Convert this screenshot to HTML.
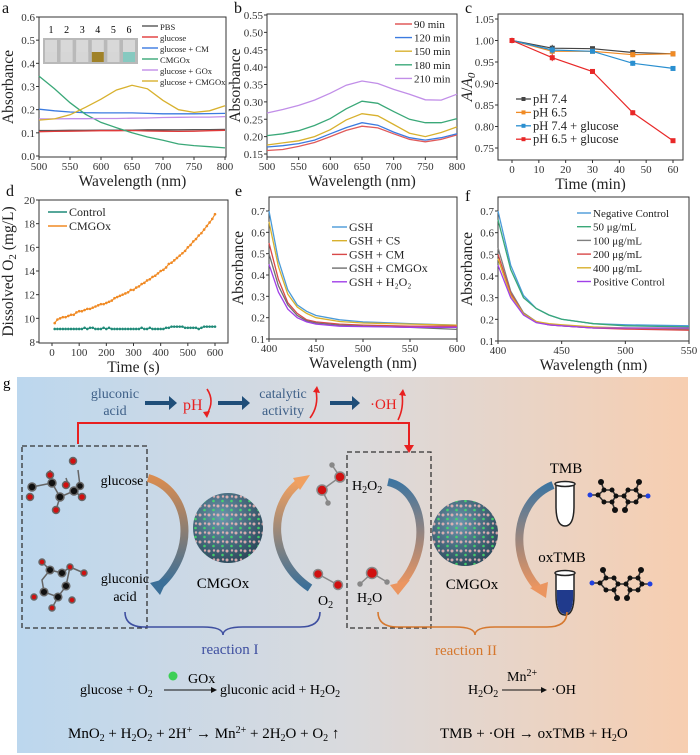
<!DOCTYPE html>
<html><head><meta charset="utf-8">
<style>
html,body{margin:0;padding:0;background:#fff;}
svg{display:block;font-family:"Liberation Serif",serif;}
</style></head>
<body>
<svg id="fig" width="700" height="755" viewBox="0 0 700 755" xmlns="http://www.w3.org/2000/svg">
<defs>
<linearGradient id="bgg" x1="0" x2="1" y1="0" y2="0"><stop offset="0" stop-color="#bcd7ee"/><stop offset="0.5" stop-color="#dadadd"/><stop offset="1" stop-color="#f7ceb0"/></linearGradient>
<radialGradient id="sph" cx="0.4" cy="0.35" r="0.7"><stop offset="0" stop-color="#6b97ad"/><stop offset="1" stop-color="#2a4658"/></radialGradient>
<pattern id="dots" width="9" height="9" patternUnits="userSpaceOnUse"><circle cx="2" cy="2" r="1.5" fill="#f0b8b8"/><circle cx="6.5" cy="6" r="1.3" fill="#44e06a"/><circle cx="7" cy="1.5" r="1.2" fill="#f0b8b8"/></pattern>
<linearGradient id="ob" x1="0" y1="0" x2="0" y2="1"><stop offset="0" stop-color="#d98c50"/><stop offset="1" stop-color="#3a6f98"/></linearGradient>
<linearGradient id="bo" x1="0" y1="0" x2="0" y2="1"><stop offset="0" stop-color="#f0a060"/><stop offset="1" stop-color="#3a6f98"/></linearGradient>
<linearGradient id="bo2" x1="0" y1="0" x2="0" y2="1"><stop offset="0" stop-color="#3f75a0"/><stop offset="1" stop-color="#eb9560"/></linearGradient>
</defs>
<g id="charts"></g>

<g>
<rect x="17" y="377" width="671" height="376" fill="url(#bgg)"/>
<text x="3" y="388" font-size="15">g</text>
<text x="115" y="398" font-size="14" fill="#3d5f87" text-anchor="middle">gluconic</text>
<text x="115" y="415" font-size="14" fill="#3d5f87" text-anchor="middle">acid</text>
<path d="M145,401 h24 v-5 l8,7 l-8,7 v-5 h-24z" fill="#1f4e79"/>
<text x="183" y="410" font-size="16" fill="#e82020">pH</text>
<path d="M207,389 q8,12 0,25" stroke="#e82020" stroke-width="1.6" fill="none"/>
<polygon points="203,412 207,418 210,411" fill="#e82020"/>
<path d="M218,401 h24 v-5 l8,7 l-8,7 v-5 h-24z" fill="#1f4e79"/>
<text x="283" y="398" font-size="14" fill="#3d5f87" text-anchor="middle">catalytic</text>
<text x="283" y="415" font-size="14" fill="#3d5f87" text-anchor="middle">activity</text>
<path d="M310,418 q9,-12 6,-27" stroke="#e82020" stroke-width="1.6" fill="none"/>
<polygon points="313,392 317,386 320,393" fill="#e82020"/>
<path d="M330,401 h22 v-5 l8,7 l-8,7 v-5 h-22z" fill="#1f4e79"/>
<text x="370" y="409" font-size="15" fill="#e82020">·OH</text>
<path d="M398,420 q6,-12 4,-26" stroke="#e82020" stroke-width="1.6" fill="none"/>
<polygon points="399,395 403,389 406,396" fill="#e82020"/>
<path d="M78,444 V423 H409 V447" stroke="#e82020" stroke-width="2" fill="none"/>
<polygon points="404,445 409,453 414,445" fill="#e82020"/>
<rect x="22" y="446" width="125" height="182" fill="none" stroke="#333" stroke-width="1.3" stroke-dasharray="5,3"/>
<rect x="347" y="452" width="84" height="176" fill="none" stroke="#333" stroke-width="1.3" stroke-dasharray="5,3"/>
<g stroke="#666" stroke-width="1.5">
<path d="M32,487 L52,483 L60,497 L74,491 L80,486 L78,470 M52,483 L50,470 M60,497 L56,510 M74,491 L82,497 M68,484 L66,478" fill="none"/>
<circle cx="32" cy="487" r="4" fill="#111"/><circle cx="52" cy="483" r="4" fill="#111"/><circle cx="60" cy="497" r="4" fill="#111"/><circle cx="74" cy="491" r="4" fill="#111"/><circle cx="80" cy="486" r="3.5" fill="#111"/>
<circle cx="30" cy="497" r="3.5" fill="#d01010"/><circle cx="50" cy="475" r="3.5" fill="#d01010"/><circle cx="56" cy="510" r="3.5" fill="#d01010"/><circle cx="82" cy="497" r="3.5" fill="#d01010"/><circle cx="66" cy="485" r="3.5" fill="#d01010"/><circle cx="73" cy="461" r="3.5" fill="#d01010"/>
</g>
<g stroke="#666" stroke-width="1.5">
<path d="M42,580 L50,570 L62,573 L70,567 L66,586 L58,597 L44,592 Z M50,570 L42,562 M70,567 L84,573 M58,597 L52,608" fill="none"/>
<circle cx="50" cy="570" r="3.8" fill="#111"/><circle cx="62" cy="573" r="3.8" fill="#111"/><circle cx="44" cy="592" r="3.8" fill="#111"/><circle cx="58" cy="597" r="3.8" fill="#111"/><circle cx="66" cy="586" r="3.8" fill="#111"/>
<circle cx="42" cy="562" r="3" fill="#d01010"/><circle cx="84" cy="573" r="3" fill="#d01010"/><circle cx="52" cy="608" r="3" fill="#d01010"/><circle cx="34" cy="597" r="3" fill="#d01010"/><circle cx="70" cy="567" r="3" fill="#d01010"/><circle cx="72" cy="600" r="3" fill="#d01010"/>
</g>
<text x="122" y="485" font-size="14" text-anchor="middle">glucose</text>
<text x="125" y="583" font-size="14" text-anchor="middle">gluconic</text>
<text x="125" y="601" font-size="14" text-anchor="middle">acid</text>
<path d="M148,478 C190,490 198,550 160,585" stroke="url(#ob)" stroke-width="8" fill="none"/>
<polygon points="150,583 168,578 160,595" fill="#3a6f98"/>
<circle cx="228" cy="528" r="35" fill="url(#sph)"/>
<circle cx="228" cy="528" r="35" fill="url(#dots)" opacity="0.85"/>
<text x="223" y="588" font-size="15" text-anchor="middle">CMGOx</text>
<path d="M310,588 C268,560 268,505 300,482" stroke="url(#bo)" stroke-width="8" fill="none"/>
<polygon points="293,478 310,475 300,490" fill="#f0a060"/>
<g stroke="#888" stroke-width="1.5">
<path d="M332,465 L340,477 L322,490 L328,502" fill="none"/>
<circle cx="340" cy="477" r="5" fill="#d01010"/><circle cx="322" cy="490" r="5" fill="#d01010"/><circle cx="332" cy="465" r="2" fill="#888"/><circle cx="328" cy="503" r="2" fill="#888"/>
</g>
<g stroke="#888" stroke-width="1.5">
<path d="M318,574 L338,585" fill="none"/><circle cx="318" cy="574" r="4.5" fill="#d01010"/><circle cx="338" cy="585" r="4.5" fill="#d01010"/>
</g>
<text x="318" y="605" font-size="14">O<tspan font-size="10" dy="3">2</tspan></text>
<text x="352" y="490" font-size="14">H<tspan font-size="10" dy="3">2</tspan><tspan dy="-3">O</tspan><tspan font-size="10" dy="3">2</tspan></text>
<path d="M388,482 C425,490 432,550 400,585" stroke="url(#bo2)" stroke-width="8" fill="none"/>
<polygon points="390,585 410,580 398,595" fill="#eb9560"/>
<g stroke="#888" stroke-width="1.5">
<path d="M360,584 L372,573 L387,582" fill="none"/><circle cx="372" cy="573" r="5.5" fill="#d01010"/><circle cx="360" cy="584" r="2" fill="#888"/><circle cx="387" cy="582" r="2" fill="#888"/>
</g>
<text x="357" y="602" font-size="14">H<tspan font-size="10" dy="3">2</tspan><tspan dy="-3">O</tspan></text>
<circle cx="465" cy="533" r="33" fill="url(#sph)"/>
<circle cx="465" cy="533" r="33" fill="url(#dots)" opacity="0.85"/>
<text x="472" y="589" font-size="15" text-anchor="middle">CMGOx</text>
<path d="M553,485 C515,500 508,555 538,588" stroke="url(#bo2)" stroke-width="8" fill="none"/>
<polygon points="530,588 548,582 546,598" fill="#eb9560"/>
<text x="566" y="473" font-size="15" text-anchor="middle">TMB</text>
<text x="562" y="562" font-size="15" text-anchor="middle">oxTMB</text>
<path d="M556,484 h18 v22 q0,20 -9,20 q-9,0 -9,-20z" fill="#fff" stroke="#222" stroke-width="1.5"/>
<ellipse cx="565" cy="484" rx="10" ry="2.5" fill="#fff" stroke="#222" stroke-width="1.5"/>
<path d="M556,573 h18 v22 q0,20 -9,20 q-9,0 -9,-20z" fill="#fff" stroke="#222" stroke-width="1.5"/>
<path d="M556.8,590 h16.4 v5 q0,19 -8.2,19 q-8.2,0 -8.2,-19z" fill="#203a8c"/>
<ellipse cx="565" cy="573" rx="10" ry="2.5" fill="#fff" stroke="#222" stroke-width="1.5"/>
<g stroke="#333" stroke-width="1.6" fill="none">
<path d="M598,495 l6,-5 l8,0 l4,6 l-4,6 l-8,0z M616,496 l8,0 M624,496 l4,-6 l8,0 l4,6 l-4,6 l-8,0z M590,495 l8,0 M640,496 l8,0 M604,490 l-3,-8 M636,490 l3,-8 M612,502 l3,8 M628,502 l-3,8"/>
<g fill="#111" stroke="none"><circle cx="598" cy="495" r="2.5"/><circle cx="604" cy="490" r="2.5"/><circle cx="612" cy="490" r="2.5"/><circle cx="616" cy="496" r="2.5"/><circle cx="612" cy="502" r="2.5"/><circle cx="604" cy="502" r="2.5"/><circle cx="624" cy="496" r="2.5"/><circle cx="628" cy="490" r="2.5"/><circle cx="636" cy="490" r="2.5"/><circle cx="640" cy="496" r="2.5"/><circle cx="636" cy="502" r="2.5"/><circle cx="628" cy="502" r="2.5"/><circle cx="601" cy="482" r="3"/><circle cx="639" cy="482" r="3"/><circle cx="615" cy="510" r="3"/><circle cx="625" cy="510" r="3"/></g>
<circle cx="590" cy="495" r="2.5" fill="#2040e0" stroke="none"/><circle cx="648" cy="496" r="2.5" fill="#2040e0" stroke="none"/>
</g>
<g stroke="#333" stroke-width="1.6" fill="none">
<path d="M600,583 l6,-5 l8,0 l4,6 l-4,6 l-8,0z M618,584 l8,0 M626,584 l4,-6 l8,0 l4,6 l-4,6 l-8,0z M592,583 l8,0 M642,584 l8,0 M606,578 l-3,-8 M638,578 l3,-8 M614,590 l3,8 M630,590 l-3,8"/>
<g fill="#111" stroke="none"><circle cx="600" cy="583" r="2.5"/><circle cx="606" cy="578" r="2.5"/><circle cx="614" cy="578" r="2.5"/><circle cx="618" cy="584" r="2.5"/><circle cx="614" cy="590" r="2.5"/><circle cx="606" cy="590" r="2.5"/><circle cx="626" cy="584" r="2.5"/><circle cx="630" cy="578" r="2.5"/><circle cx="638" cy="578" r="2.5"/><circle cx="642" cy="584" r="2.5"/><circle cx="638" cy="590" r="2.5"/><circle cx="630" cy="590" r="2.5"/><circle cx="603" cy="570" r="3"/><circle cx="641" cy="570" r="3"/><circle cx="617" cy="598" r="3"/><circle cx="627" cy="598" r="3"/></g>
<circle cx="592" cy="583" r="2.5" fill="#2040e0" stroke="none"/><circle cx="650" cy="584" r="2.5" fill="#2040e0" stroke="none"/>
</g>
<path d="M125,612 q0,15 20,15 h58 q20,0 20,8 q0,-8 20,-8 h57 q20,0 20,-15" stroke="#3e4fa0" stroke-width="1.6" fill="none"/>
<text x="230" y="654" font-size="15" fill="#3e4fa0" text-anchor="middle">reaction I</text>
<path d="M378,612 q0,15 20,15 h57 q20,0 20,8 q0,-8 20,-8 h52 q20,0 20,-15" stroke="#d6782e" stroke-width="1.6" fill="none"/>
<text x="466" y="655" font-size="15" fill="#d6782e" text-anchor="middle">reaction II</text>
<g font-size="14">
<text x="80" y="694">glucose + O<tspan font-size="10" dy="3">2</tspan></text>
<line x1="164" y1="690" x2="213" y2="690" stroke="#111" stroke-width="1"/><polygon points="211,687 217,690 211,693" fill="#111"/>
<circle cx="173" cy="676" r="4.5" fill="#3ccf55"/>
<text x="188" y="683" font-size="14">GOx</text>
<text x="220" y="694">gluconic acid + H<tspan font-size="10" dy="3">2</tspan><tspan dy="-3">O</tspan><tspan font-size="10" dy="3">2</tspan></text>
</g>
<g font-size="14">
<text x="468" y="694">H<tspan font-size="10" dy="3">2</tspan><tspan dy="-3">O</tspan><tspan font-size="10" dy="3">2</tspan></text>
<line x1="502" y1="690" x2="543" y2="690" stroke="#111" stroke-width="1"/><polygon points="541,687 547,690 541,693" fill="#111"/>
<text x="507" y="681">Mn<tspan font-size="10" dy="-5">2+</tspan></text>
<text x="551" y="694">·OH</text>
</g>
<text x="68" y="738" font-size="15">MnO<tspan font-size="10" dy="3">2</tspan><tspan dy="-3"> + H</tspan><tspan font-size="10" dy="3">2</tspan><tspan dy="-3">O</tspan><tspan font-size="10" dy="3">2</tspan><tspan dy="-3"> + 2H</tspan><tspan font-size="10" dy="-5">+</tspan><tspan dy="5"> → Mn</tspan><tspan font-size="10" dy="-5">2+</tspan><tspan dy="5"> + 2H</tspan><tspan font-size="10" dy="3">2</tspan><tspan dy="-3">O + O</tspan><tspan font-size="10" dy="3">2</tspan><tspan dy="-3"> ↑</tspan></text>
<text x="440" y="738" font-size="15">TMB + ·OH → oxTMB + H<tspan font-size="10" dy="3">2</tspan><tspan dy="-3">O</tspan></text>
</g>
</svg>
<script>
const aWl = [500,525,550,575,600,625,650,675,700,725,750,775,800];
const aPBS = [0.110,0.110,0.111,0.111,0.112,0.112,0.112,0.113,0.113,0.113,0.114,0.114,0.115];
const aGlucose = [0.105,0.106,0.107,0.108,0.109,0.109,0.110,0.108,0.107,0.106,0.107,0.109,0.111];
const aGlucoseCM = [0.202,0.195,0.190,0.187,0.186,0.186,0.186,0.184,0.182,0.182,0.182,0.183,0.184];
const aCMGOx = [0.345,0.290,0.230,0.180,0.145,0.122,0.100,0.082,0.068,0.052,0.045,0.040,0.035];
const aGlucoseGOx = [0.160,0.160,0.161,0.161,0.162,0.162,0.163,0.164,0.166,0.167,0.168,0.168,0.170];
const aGlucoseCMGOx = [0.155,0.160,0.178,0.210,0.245,0.285,0.305,0.290,0.240,0.200,0.188,0.195,0.217];
const aXTicks = [500,550,600,650,700,750,800];
const aYTicks = [0.0,0.1,0.2,0.3,0.4,0.5,0.6];
const aLegend = ["PBS","glucose","glucose + CM","CMGOx","glucose + GOx","glucose + CMGOx"];
const bWl = [500,525,550,575,600,625,650,675,700,725,750,775,800];
const b90 = [0.160,0.163,0.172,0.183,0.200,0.218,0.230,0.225,0.208,0.192,0.185,0.192,0.205];
const b120 = [0.170,0.174,0.180,0.190,0.208,0.226,0.240,0.233,0.213,0.197,0.190,0.197,0.208];
const b150 = [0.176,0.182,0.188,0.200,0.220,0.248,0.266,0.260,0.235,0.210,0.200,0.212,0.228];
const b180 = [0.203,0.208,0.217,0.232,0.252,0.280,0.302,0.296,0.272,0.250,0.240,0.240,0.252];
const b210 = [0.268,0.278,0.290,0.305,0.325,0.348,0.360,0.353,0.336,0.322,0.306,0.305,0.322];
const bXTicks = [500,550,600,650,700,750,800];
const bYTicks = [0.15,0.20,0.25,0.30,0.35,0.40,0.45,0.50,0.55];
const bLegend = ["90 min","120 min","150 min","180 min","210 min"];
const cTime = [0,15,30,45,60];
const cPH74 = [1.000,0.982,0.981,0.972,0.969];
const cPH65 = [1.000,0.975,0.975,0.967,0.969];
const cPH74G = [1.000,0.978,0.975,0.947,0.935];
const cPH65G = [1.000,0.960,0.928,0.832,0.767];
const cErr = [0.006,0.008,0.005,0.006,0.005];
const cXTicks = [0,10,20,30,40,50,60];
const cYTicks = [0.75,0.80,0.85,0.90,0.95,1.00,1.05];
const cLegend = ["pH 7.4","pH 6.5","pH 7.4 + glucose","pH 6.5 + glucose"];
const dTime = [10,20,30,40,50,60,70,80,90,100,110,120,130,140,150,160,170,180,190,200,210,220,230,240,250,260,270,280,290,300,310,320,330,340,350,360,370,380,390,400,410,420,430,440,450,460,470,480,490,500,510,520,530,540,550,560,570,580,590,600];
const dCMGOx = [9.6,9.9,10.0,10.1,10.1,10.2,10.3,10.3,10.5,10.6,10.6,10.7,10.8,10.8,10.9,11.0,11.1,11.2,11.2,11.3,11.4,11.5,11.7,11.8,11.9,12.0,12.1,12.2,12.4,12.4,12.6,12.7,12.9,13.0,13.2,13.3,13.5,13.6,13.8,14.0,14.1,14.3,14.6,14.7,14.9,15.1,15.3,15.5,15.7,16.0,16.2,16.5,16.7,17.0,17.2,17.5,17.8,18.1,18.4,18.8];
const dControl = [9.1,9.1,9.1,9.1,9.1,9.1,9.1,9.1,9.1,9.1,9.1,9.2,9.1,9.2,9.2,9.1,9.1,9.1,9.2,9.1,9.2,9.1,9.1,9.1,9.1,9.1,9.1,9.1,9.1,9.1,9.1,9.1,9.2,9.1,9.1,9.2,9.1,9.1,9.1,9.1,9.1,9.2,9.2,9.3,9.3,9.3,9.3,9.3,9.2,9.2,9.2,9.2,9.2,9.1,9.2,9.3,9.3,9.3,9.3,9.3];
const dXTicks = [0,100,200,300,400,500,600];
const dYTicks = [8,10,12,14,16,18,20];
const dLegend = ["Control","CMGOx"];
const eWl = [400,410,420,430,440,450,475,500,550,600];
const eGSH = [0.70,0.47,0.33,0.26,0.23,0.21,0.19,0.18,0.172,0.165];
const eCS = [0.65,0.44,0.31,0.25,0.22,0.20,0.182,0.175,0.170,0.165];
const eCM = [0.55,0.38,0.27,0.22,0.19,0.18,0.170,0.165,0.160,0.160];
const eCMGOx = [0.50,0.35,0.26,0.21,0.185,0.175,0.165,0.160,0.155,0.145];
const eH2O2 = [0.45,0.32,0.24,0.20,0.18,0.17,0.160,0.158,0.155,0.155];
const eXTicks = [400,450,500,550,600];
const eYTicks = [0.1,0.2,0.3,0.4,0.5,0.6,0.7];
const eLegend = ["GSH","GSH + CS","GSH + CM","GSH + CMGOx","GSH + H₂O₂"];
const fWl = [400,410,420,430,440,450,475,500,550];
const fNeg = [0.70,0.45,0.31,0.25,0.22,0.20,0.180,0.175,0.170];
const f50 = [0.66,0.43,0.30,0.25,0.22,0.20,0.180,0.170,0.165];
const f100 = [0.53,0.33,0.23,0.19,0.175,0.17,0.160,0.160,0.155];
const f200 = [0.50,0.32,0.225,0.19,0.175,0.17,0.160,0.155,0.150];
const f400 = [0.48,0.31,0.225,0.19,0.18,0.175,0.165,0.160,0.160];
const fPos = [0.45,0.30,0.22,0.185,0.175,0.17,0.160,0.160,0.160];
const fXTicks = [400,450,500,550];
const fYTicks = [0.1,0.2,0.3,0.4,0.5,0.6,0.7];
const fLegend = ["Negative Control","50 μg/mL","100 μg/mL","200 μg/mL","400 μg/mL","Positive Control"];

const NS = "http://www.w3.org/2000/svg";
const root = document.getElementById('charts');
function el(tag, attrs, parent){
  const e = document.createElementNS(NS, tag);
  for (const k in attrs) e.setAttribute(k, attrs[k]);
  (parent||root).appendChild(e);
  return e;
}
function axes(cfg){
  const g = el('g', {});
  
  
  const sx = v => cfg.px0 + (v - cfg.vx0) / (cfg.vx1 - cfg.vx0) * (cfg.px1 - cfg.px0);
  const sy = v => cfg.py0 + (v - cfg.vy0) / (cfg.vy1 - cfg.vy0) * (cfg.py1 - cfg.py0);
  const fr = el('rect', {x:cfg.L, y:cfg.T, width:cfg.R-cfg.L, height:cfg.B-cfg.T, fill:'none', stroke:'#333', 'stroke-width':1}, g);
  
  
  cfg.xt.forEach(v => {
    const t = el('line', {x1:sx(v), x2:sx(v), y1:cfg.B, y2:cfg.B+3, stroke:'#333'}, g);
    
    
    const l = el('text', {x:sx(v), y:cfg.B+13, 'font-size':11, 'text-anchor':'middle', fill:'#333'}, g);
    
    
    l.textContent = v;
  });
  cfg.yt.forEach(v => {
    const t = el('line', {x1:cfg.L-3, x2:cfg.L, y1:sy(v), y2:sy(v), stroke:'#333'}, g);
    
    
    const l = el('text', {x:cfg.L-4, y:sy(v)+4, 'font-size':11, 'text-anchor':'end', fill:'#333'}, g);
    
    
    l.textContent = v.toFixed(cfg.yd);
  });
  const xl = el('text', {x:(cfg.L+cfg.R)/2, y:cfg.B+29, 'font-size':15.5, 'text-anchor':'middle', fill:'#222'}, g);
  
  
  xl.innerHTML = cfg.xlabel;
  const yl = el('text', {x:0, y:0, 'font-size':15.5, 'text-anchor':'middle', fill:'#222', transform:`translate(${cfg.ylx},${(cfg.T+cfg.B)/2}) rotate(-90)`}, g);
  
  
  yl.innerHTML = cfg.ylabel;
  const pl = el('text', {x:cfg.lx, y:cfg.ly, 'font-size':16, fill:'#111'}, g);
  
  
  pl.textContent = cfg.letter;
  return {g, sx, sy};
}
function line(ax, xs, ys, color, name, w){
  const d = xs.map((x,i)=>(i?'L':'M')+ax.sx(x).toFixed(1)+','+ax.sy(ys[i]).toFixed(1)).join(' ');
  const p = el('path', {d, fill:'none', stroke:color, 'stroke-width':w||1.3}, ax.g);
  
  
  return p;
}
function legend(ax, labels, colors, x, y0, dy, len, fs){
  labels.forEach((t,i)=>{
    const y = y0 + i*dy;
    const l = el('line', {x1:x, x2:x+len, y1:y, y2:y, stroke:colors[i], 'stroke-width':1.4}, ax.g);
    
    
    const tx = el('text', {x:x+len+2, y:y+4, 'font-size':fs, fill:'#222'}, ax.g);
    
    
    tx.textContent = t;
  });
}

const A = axes({name:'panel-a-chart', L:39,R:226,T:17,B:157, px0:39,px1:225,vx0:500,vx1:800, py0:156,py1:17,vy0:0,vy1:0.6, xt:aXTicks, yt:aYTicks, yd:1, xlabel:'Wavelength (nm)', ylabel:'Absorbance', ylx:13, letter:'a', lx:2, ly:13});
const aCols = ['#555','#e03a3a','#3b7be0','#3aa878','#c18ee8','#d8b12e'];
[aPBS,aGlucose,aGlucoseCM,aCMGOx,aGlucoseGOx,aGlucoseCMGOx].forEach((s,i)=>line(A,aWl,s,aCols[i],'series-'+aLegend[i].replace(/[^a-z0-9]+/gi,'-').toLowerCase()));
legend(A, aLegend, aCols, 142, 26, 11, 16, 8.6);
const ph = el('g', {}, A.g);


const phr = el('rect', {x:43,y:38,width:95,height:26,fill:'#b9b9b9'}, ph);


const vialCol = ['#d6d6d6','#d6d6d6','#d6d6d6','#a08228','#d6d6d6','#86c9c0'];
vialCol.forEach((c,i)=>{
  const vx = 45 + i*15.6;
  const v = el('rect', {x:vx, y:40, width:12, height:22, fill:'#d8d8d8'}, ph);
  
  
  const s = el('rect', {x:vx, y:52, width:12, height:10, fill:c}, ph);
  
  
  const n = el('text', {x:vx+6, y:33, 'font-size':10, 'text-anchor':'middle'}, ph);
  
  
  n.textContent = i+1;
});

const Bp = axes({name:'panel-b-chart', L:267,R:457,T:14,B:157, px0:267,px1:457,vx0:500,vx1:800, py0:154,py1:15,vy0:0.15,vy1:0.55, xt:bXTicks, yt:bYTicks, yd:2, xlabel:'Wavelength (nm)', ylabel:'Absorbance', ylx:240, letter:'b', lx:234, ly:13});
const bCols = ['#e05a5a','#3b7be0','#d8b12e','#3aa878','#c18ee8'];
[b90,b120,b150,b180,b210].forEach((s,i)=>line(Bp,bWl,s,bCols[i],'series-'+bLegend[i].replace(' ','-')));
legend(Bp, bLegend, bCols, 395, 24, 13.6, 17, 11);

const C = axes({name:'panel-c-chart', L:498,R:683,T:14,B:160, px0:512,px1:673,vx0:0,vx1:60, py0:148,py1:19,vy0:0.75,vy1:1.05, xt:cXTicks, yt:cYTicks, yd:2, xlabel:'Time (min)', ylabel:'<tspan font-style="italic">A</tspan>/<tspan font-style="italic">A</tspan><tspan font-size="11" dy="3" font-style="italic">0</tspan>', ylx:472, letter:'c', lx:465, ly:13});
const cCols = ['#444','#f08a24','#2a8fd0','#e82828'];
[cPH74,cPH65,cPH74G,cPH65G].forEach((s,i)=>{
  line(C,cTime,s,cCols[i],'series-'+cLegend[i].replace(/[^a-z0-9]+/gi,'-').toLowerCase(),1.2);
  cTime.forEach((t,j)=>{
    const x = C.sx(t);
    const eb = el('line', {x1:x,x2:x,y1:C.sy(s[j]+cErr[j]),y2:C.sy(s[j]-cErr[j]),stroke:cCols[i],'stroke-width':1}, C.g);
    
    
    const m = el('rect', {x:x-2.5,y:C.sy(s[j])-2.5,width:5,height:5,fill:cCols[i]}, C.g);
    
    
  });
});
cLegend.forEach((t,i)=>{
  const y = 99 + i*13.4;
  const l = el('line', {x1:516,x2:531,y1:y,y2:y,stroke:cCols[i],'stroke-width':1.3}, C.g);
  
  
  const m = el('rect', {x:521.5,y:y-2,width:4,height:4,fill:cCols[i]}, C.g);
  
  
  const tx = el('text', {x:533,y:y+4,'font-size':12.5,fill:'#222'}, C.g);
  
  
  tx.textContent = t;
});

const D = axes({name:'panel-d-chart', L:39,R:228,T:200,B:343, px0:52,px1:215,vx0:0,vx1:600, py0:342,py1:200,vy0:8,vy1:20, xt:dXTicks, yt:dYTicks, yd:0, xlabel:'Time (s)', ylabel:'Dissolved O<tspan font-size="11" dy="3">2</tspan><tspan dy="-3"> (mg/L)</tspan>', ylx:13, letter:'d', lx:6, ly:196});
const dCols = ['#1f8a78','#f08a24'];
[dControl,dCMGOx].forEach((s,i)=>{
  line(D,dTime,s,dCols[i],'series-'+dLegend[i].toLowerCase(),1.1);
  dTime.forEach((t,j)=>{
    const m = el('circle', {cx:D.sx(t),cy:D.sy(s[j]),r:1.3,fill:dCols[i]}, D.g);
    
    
  });
});
legend(D, dLegend, dCols, 48, 212, 14, 19, 12);

const E = axes({name:'panel-e-chart', L:269,R:457,T:197,B:339, px0:269,px1:457,vx0:400,vx1:600, py0:339,py1:211,vy0:0.1,vy1:0.7, xt:eXTicks, yt:eYTicks, yd:1, xlabel:'Wavelength (nm)', ylabel:'Absorbance', ylx:243, letter:'e', lx:235, ly:196});
const eCols = ['#4a9ad8','#d8b12e','#d84848','#707070','#a040e8'];
[eGSH,eCS,eCM,eCMGOx,eH2O2].forEach((s,i)=>line(E,eWl,s,eCols[i],'series-'+eLegend[i].replace(/[^a-z0-9]+/gi,'-').toLowerCase()));
legend(E, eLegend, eCols, 332, 227, 13.7, 15, 12);

const F = axes({name:'panel-f-chart', L:498,R:689,T:197,B:341, px0:498,px1:689,vx0:400,vx1:550, py0:341,py1:211,vy0:0.1,vy1:0.7, xt:fXTicks, yt:fYTicks, yd:1, xlabel:'Wavelength (nm)', ylabel:'Absorbance', ylx:472, letter:'f', lx:465, ly:201});
const fCols = ['#4a9ad8','#3aa878','#808080','#d84848','#d8b12e','#a040e8'];
[fNeg,f50,f100,f200,f400,fPos].forEach((s,i)=>line(F,fWl,s,fCols[i],'series-'+fLegend[i].replace(/[^a-z0-9]+/gi,'-').toLowerCase()));
legend(F, fLegend, fCols, 577, 213, 13.7, 14, 11);
</script>
</body></html>
